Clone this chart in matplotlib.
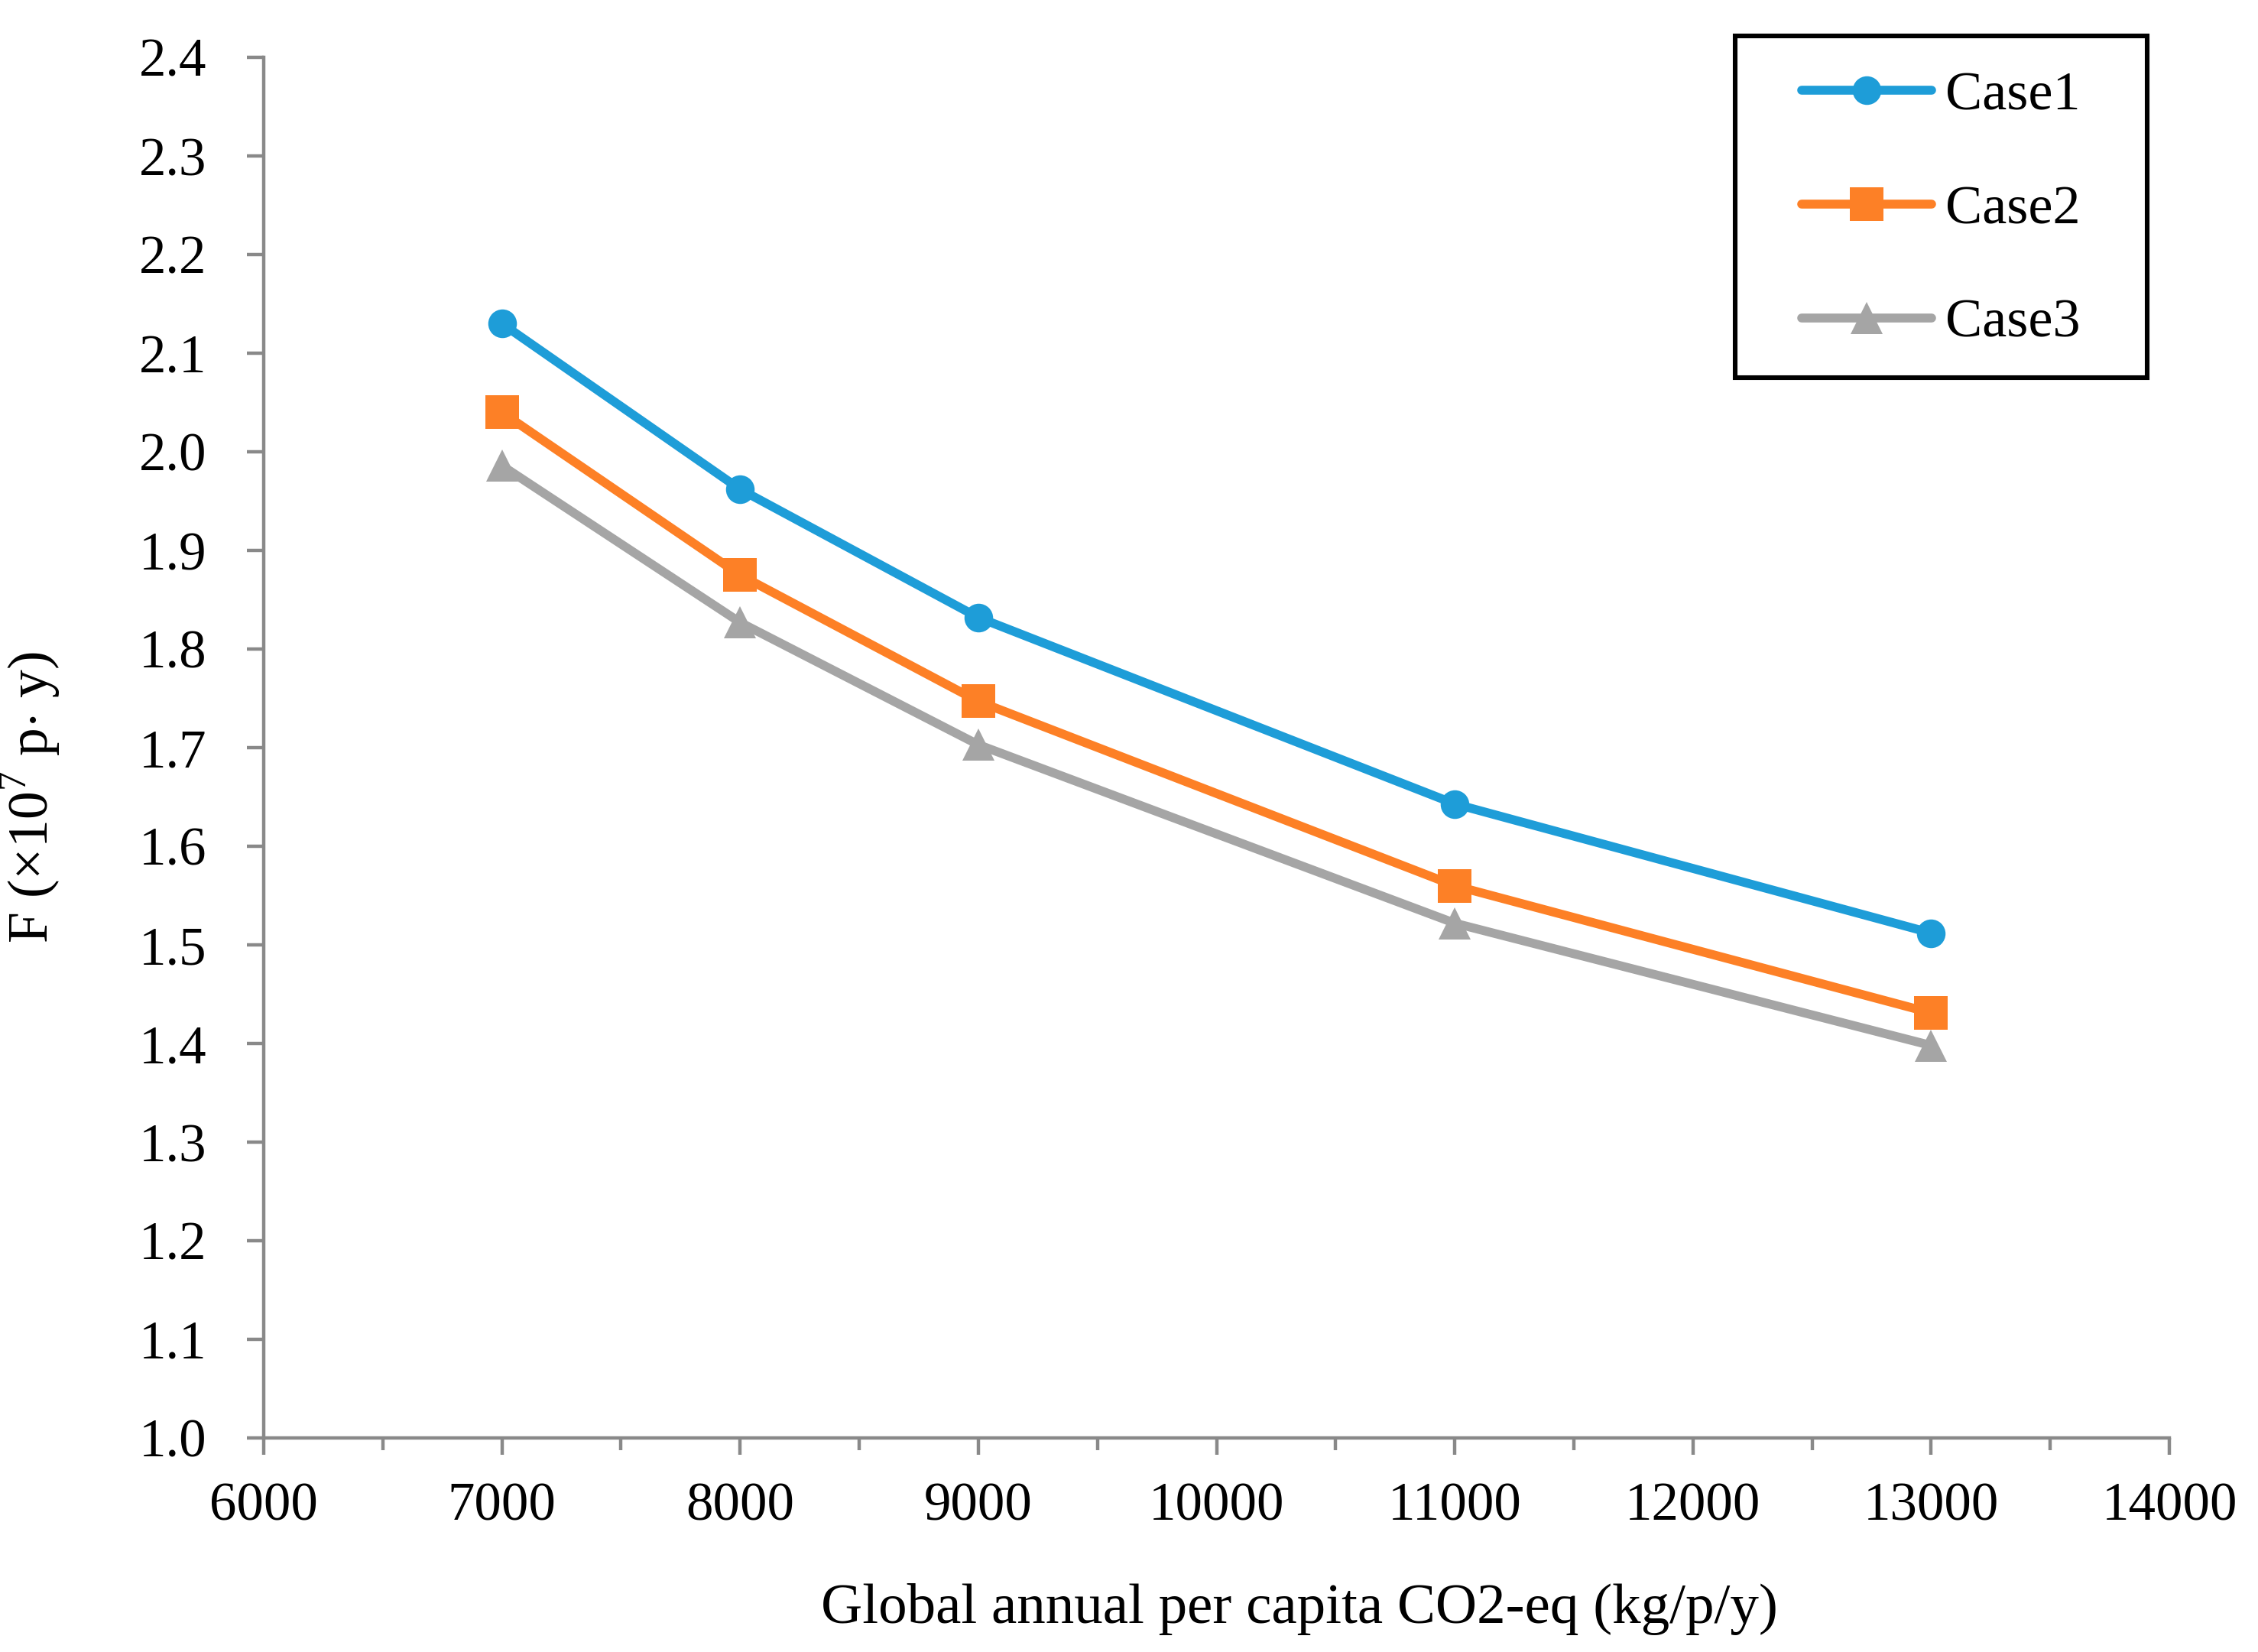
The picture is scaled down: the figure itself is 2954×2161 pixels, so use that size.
import matplotlib
matplotlib.use("Agg")
import matplotlib.pyplot as plt
from matplotlib.ticker import MultipleLocator, FixedLocator
from matplotlib.patches import Rectangle

x_values = [7000, 8000, 9000, 11000, 13000]
case1 = [2.130, 1.962, 1.832, 1.643, 1.512]
case2 = [2.040, 1.875, 1.747, 1.560, 1.431]
case3 = [1.986, 1.827, 1.703, 1.522, 1.398]
series_names = ["Case1", "Case2", "Case3"]
x_ticks = [6000, 7000, 8000, 9000, 10000, 11000, 12000, 13000, 14000]
y_ticks = [1.0, 1.1, 1.2, 1.3, 1.4, 1.5, 1.6, 1.7, 1.8, 1.9, 2.0, 2.1, 2.2, 2.3, 2.4]

plt.rcParams['font.family'] = ['Liberation Serif', 'DejaVu Serif']
plt.rcParams['mathtext.fontset'] = 'custom'
plt.rcParams['mathtext.rm'] = 'Liberation Serif'

W, H = 2954, 2161
DPI = 200
fig = plt.figure(figsize=(W / DPI, H / DPI), dpi=DPI)
L, R, T, B = 345, 2838, 75, 1881
ax = fig.add_axes([L / W, 1 - B / H, (R - L) / W, (B - T) / H])

gray = '#898989'
colors = ['#1E9DD8', '#FD8026', '#A5A5A5']
markers = ['o', 's', '^']
msizes = [13.5, 16, 15]
lw = 4.2
for vals, name, c, m, ms in zip([case1, case2, case3], series_names, colors, markers, msizes):
    ax.plot(x_values, vals, color=c, lw=lw, marker=m, markersize=ms,
            markeredgewidth=0, label=name, solid_capstyle='round', solid_joinstyle='round',
            clip_on=False)

ax.set_xlim(6000, 14000)
ax.set_ylim(1.0, 2.4)
ax.xaxis.set_major_locator(FixedLocator(x_ticks))
ax.xaxis.set_minor_locator(MultipleLocator(500))
ax.yaxis.set_major_locator(FixedLocator(y_ticks))
ax.set_xticklabels([str(v) for v in x_ticks])
ax.set_yticklabels([f"{v:.1f}" for v in y_ticks])

for s in ['top', 'right']:
    ax.spines[s].set_visible(False)
for s in ['left', 'bottom']:
    ax.spines[s].set_color(gray)
    ax.spines[s].set_linewidth(1.6)

ax.tick_params(axis='both', which='major', direction='out', length=7.8, width=1.6,
               color=gray, labelsize=25.5, labelcolor='black')
ax.tick_params(axis='x', which='minor', direction='out', length=5.8, width=1.6, color=gray)
ax.tick_params(axis='y', which='major', pad=19)
ax.tick_params(axis='x', which='major', pad=13)

ax.set_xlabel("Global annual per capita CO2-eq (kg/p/y)", fontsize=27, labelpad=22)
ax.xaxis.set_label_coords(0.5435, -0.105)
ax.set_ylabel(r"F ($\times$10$^7$ p$\cdot$ y)", fontsize=26.5, labelpad=23)
ax.yaxis.set_label_coords(-0.1055, 0.464)

# legend box
bx0, bx1, by0, by1 = 2270, 2809, 47, 494
fig.patches.append(Rectangle((bx0 / W, 1 - by1 / H), (bx1 - bx0) / W, (by1 - by0) / H,
                             transform=fig.transFigure, fill=False, edgecolor='black',
                             linewidth=2.2, zorder=5))
leg = ax.legend(loc='center', bbox_to_anchor=((bx0 + bx1) / 2 / W, 1 - ((by0 + by1) / 2 + 4) / H),
                bbox_transform=fig.transFigure, frameon=False,
                fontsize=26, handlelength=2.35, handletextpad=0.25, labelspacing=1.15,
                borderpad=0, borderaxespad=0)

fig.savefig("out.png", dpi=DPI)
